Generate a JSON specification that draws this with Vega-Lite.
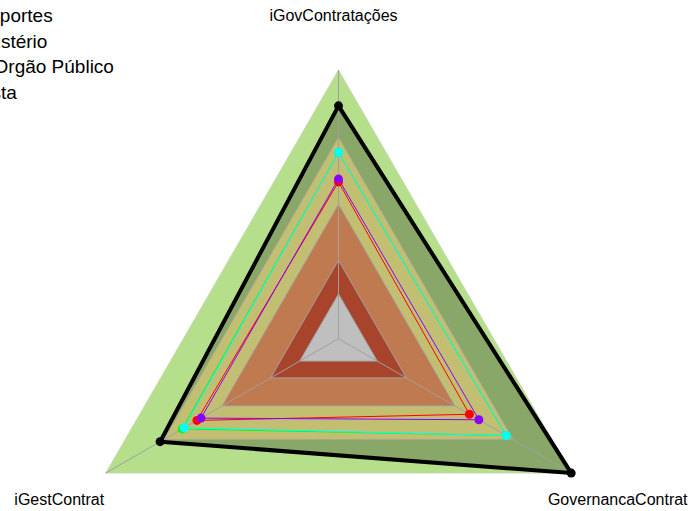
{
  "$schema": "https://vega.github.io/schema/vega-lite/v6.json",
  "width": 691,
  "height": 511,
  "padding": 0,
  "autosize": {"type": "none"},
  "background": "white",
  "config": {"view": {"stroke": null}, "font": "Liberation Sans"},
  "datasets": {
    "faixas": [
      {"faixa": "Aprimorado", "eixo": "iGovContratações", "valor": 1.0},
      {"faixa": "Aprimorado", "eixo": "iGestContrat", "valor": 1.0},
      {"faixa": "Aprimorado", "eixo": "GovernancaContrat", "valor": 1.0},
      {"faixa": "Intermediário", "eixo": "iGovContratações", "valor": 0.7},
      {"faixa": "Intermediário", "eixo": "iGestContrat", "valor": 0.7},
      {"faixa": "Intermediário", "eixo": "GovernancaContrat", "valor": 0.7},
      {"faixa": "Iniciando", "eixo": "iGovContratações", "valor": 0.4},
      {"faixa": "Iniciando", "eixo": "iGestContrat", "valor": 0.4},
      {"faixa": "Iniciando", "eixo": "GovernancaContrat", "valor": 0.4},
      {"faixa": "Inexpressivo", "eixo": "iGovContratações", "valor": 0.15},
      {"faixa": "Inexpressivo", "eixo": "iGestContrat", "valor": 0.15},
      {"faixa": "Inexpressivo", "eixo": "GovernancaContrat", "valor": 0.15},
      {"faixa": "Zero", "eixo": "iGovContratações", "valor": 0.0},
      {"faixa": "Zero", "eixo": "iGestContrat", "valor": 0.0},
      {"faixa": "Zero", "eixo": "GovernancaContrat", "valor": 0.0}
    ],
    "series": [
      {"serie": "Resposta", "eixo": "iGovContratações", "valor": 0.84},
      {"serie": "Resposta", "eixo": "iGestContrat", "valor": 0.72},
      {"serie": "Resposta", "eixo": "GovernancaContrat", "valor": 1.0},
      {"serie": "e Transportes", "eixo": "iGovContratações", "valor": 0.5},
      {"serie": "e Transportes", "eixo": "iGestContrat", "valor": 0.53},
      {"serie": "e Transportes", "eixo": "GovernancaContrat", "valor": 0.475},
      {"serie": "Do Ministério", "eixo": "iGovContratações", "valor": 0.513},
      {"serie": "Do Ministério", "eixo": "iGestContrat", "valor": 0.509},
      {"serie": "Do Ministério", "eixo": "GovernancaContrat", "valor": 0.524},
      {"serie": "Órgão Avaliado", "eixo": "iGovContratações", "valor": 0.632},
      {"serie": "Órgão Avaliado", "eixo": "iGestContrat", "valor": 0.606},
      {"serie": "Órgão Avaliado", "eixo": "GovernancaContrat", "valor": 0.665},
      {"serie": "Média Orgão Público", "eixo": "iGovContratações", "valor": 0.632},
      {"serie": "Média Orgão Público", "eixo": "iGestContrat", "valor": 0.596},
      {"serie": "Média Orgão Público", "eixo": "GovernancaContrat", "valor": 0.665}
    ],
    "eixos": [
      {"eixo": "iGovContratações"},
      {"eixo": "iGestContrat"},
      {"eixo": "GovernancaContrat"}
    ]
  },
  "layer": [
    {
      "data": {"name": "faixas"},
      "transform": [
        {"filter": "datum.faixa === 'Aprimorado'"},
        {"calculate": "datum.eixo === 'iGovContratações' ? 90 : datum.eixo === 'iGestContrat' ? 210 : 330", "as": "ang"},
        {"calculate": "(datum.valor + 0.2) / 1.2", "as": "r"},
        {"calculate": "datum.r * cos(datum.ang * PI / 180)", "as": "px"},
        {"calculate": "datum.r * sin(datum.ang * PI / 180)", "as": "py"}
      ],
      "mark": {"type": "line", "interpolate": "linear-closed", "filled": true, "fill": "#b5df8b", "stroke": "#c8d8b8", "strokeWidth": 1},
      "encoding": {
        "x": {"field": "px", "type": "quantitative", "scale": {"domain": [-1.2598, 1.3119], "nice": false, "zero": false}, "axis": null},
        "y": {"field": "py", "type": "quantitative", "scale": {"domain": [-0.6412, 1.2605], "nice": false, "zero": false}, "axis": null},
        "order": {"field": "ang", "type": "quantitative"}
      }
    },
    {
      "data": {"name": "series"},
      "transform": [
        {"filter": "datum.serie === 'Resposta'"},
        {"calculate": "datum.eixo === 'iGovContratações' ? 90 : datum.eixo === 'iGestContrat' ? 210 : 330", "as": "ang"},
        {"calculate": "(datum.valor + 0.2) / 1.2", "as": "r"},
        {"calculate": "datum.r * cos(datum.ang * PI / 180)", "as": "px"},
        {"calculate": "datum.r * sin(datum.ang * PI / 180)", "as": "py"}
      ],
      "mark": {"type": "line", "interpolate": "linear-closed", "filled": true, "fill": "#88a769", "strokeWidth": 0},
      "encoding": {
        "x": {"field": "px", "type": "quantitative", "scale": {"domain": [-1.2598, 1.3119], "nice": false, "zero": false}, "axis": null},
        "y": {"field": "py", "type": "quantitative", "scale": {"domain": [-0.6412, 1.2605], "nice": false, "zero": false}, "axis": null},
        "order": {"field": "ang", "type": "quantitative"}
      }
    },
    {
      "data": {"name": "faixas"},
      "transform": [
        {"filter": "datum.faixa === 'Intermediário'"},
        {"calculate": "datum.eixo === 'iGovContratações' ? 90 : datum.eixo === 'iGestContrat' ? 210 : 330", "as": "ang"},
        {"calculate": "(datum.valor + 0.2) / 1.2", "as": "r"},
        {"calculate": "datum.r * cos(datum.ang * PI / 180)", "as": "px"},
        {"calculate": "datum.r * sin(datum.ang * PI / 180)", "as": "py"}
      ],
      "mark": {"type": "line", "interpolate": "linear-closed", "filled": true, "fill": "#c2bf72", "stroke": "#a8a890", "strokeWidth": 1},
      "encoding": {
        "x": {"field": "px", "type": "quantitative", "scale": {"domain": [-1.2598, 1.3119], "nice": false, "zero": false}, "axis": null},
        "y": {"field": "py", "type": "quantitative", "scale": {"domain": [-0.6412, 1.2605], "nice": false, "zero": false}, "axis": null},
        "order": {"field": "ang", "type": "quantitative"}
      }
    },
    {
      "data": {"name": "faixas"},
      "transform": [
        {"filter": "datum.faixa === 'Iniciando'"},
        {"calculate": "datum.eixo === 'iGovContratações' ? 90 : datum.eixo === 'iGestContrat' ? 210 : 330", "as": "ang"},
        {"calculate": "(datum.valor + 0.2) / 1.2", "as": "r"},
        {"calculate": "datum.r * cos(datum.ang * PI / 180)", "as": "px"},
        {"calculate": "datum.r * sin(datum.ang * PI / 180)", "as": "py"}
      ],
      "mark": {"type": "line", "interpolate": "linear-closed", "filled": true, "fill": "#c07a50", "stroke": "#a0a0a0", "strokeWidth": 1},
      "encoding": {
        "x": {"field": "px", "type": "quantitative", "scale": {"domain": [-1.2598, 1.3119], "nice": false, "zero": false}, "axis": null},
        "y": {"field": "py", "type": "quantitative", "scale": {"domain": [-0.6412, 1.2605], "nice": false, "zero": false}, "axis": null},
        "order": {"field": "ang", "type": "quantitative"}
      }
    },
    {
      "data": {"name": "faixas"},
      "transform": [
        {"filter": "datum.faixa === 'Inexpressivo'"},
        {"calculate": "datum.eixo === 'iGovContratações' ? 90 : datum.eixo === 'iGestContrat' ? 210 : 330", "as": "ang"},
        {"calculate": "(datum.valor + 0.2) / 1.2", "as": "r"},
        {"calculate": "datum.r * cos(datum.ang * PI / 180)", "as": "px"},
        {"calculate": "datum.r * sin(datum.ang * PI / 180)", "as": "py"}
      ],
      "mark": {"type": "line", "interpolate": "linear-closed", "filled": true, "fill": "#a8432c", "stroke": "#a0a0a0", "strokeWidth": 1},
      "encoding": {
        "x": {"field": "px", "type": "quantitative", "scale": {"domain": [-1.2598, 1.3119], "nice": false, "zero": false}, "axis": null},
        "y": {"field": "py", "type": "quantitative", "scale": {"domain": [-0.6412, 1.2605], "nice": false, "zero": false}, "axis": null},
        "order": {"field": "ang", "type": "quantitative"}
      }
    },
    {
      "data": {"name": "faixas"},
      "transform": [
        {"filter": "datum.faixa === 'Zero'"},
        {"calculate": "datum.eixo === 'iGovContratações' ? 90 : datum.eixo === 'iGestContrat' ? 210 : 330", "as": "ang"},
        {"calculate": "(datum.valor + 0.2) / 1.2", "as": "r"},
        {"calculate": "datum.r * cos(datum.ang * PI / 180)", "as": "px"},
        {"calculate": "datum.r * sin(datum.ang * PI / 180)", "as": "py"}
      ],
      "mark": {"type": "line", "interpolate": "linear-closed", "filled": true, "fill": "#bfbfbf", "stroke": "#a0a0a0", "strokeWidth": 1},
      "encoding": {
        "x": {"field": "px", "type": "quantitative", "scale": {"domain": [-1.2598, 1.3119], "nice": false, "zero": false}, "axis": null},
        "y": {"field": "py", "type": "quantitative", "scale": {"domain": [-0.6412, 1.2605], "nice": false, "zero": false}, "axis": null},
        "order": {"field": "ang", "type": "quantitative"}
      }
    },
    {
      "data": {"name": "eixos"},
      "transform": [
        {"calculate": "datum.eixo === 'iGovContratações' ? 90 : datum.eixo === 'iGestContrat' ? 210 : 330", "as": "ang"},
        {"calculate": "cos(datum.ang * PI / 180)", "as": "px"},
        {"calculate": "sin(datum.ang * PI / 180)", "as": "py"}
      ],
      "mark": {"type": "rule", "color": "#a0a0a0", "strokeWidth": 1},
      "encoding": {
        "x": {"field": "px", "type": "quantitative", "scale": {"domain": [-1.2598, 1.3119], "nice": false, "zero": false}, "axis": null},
        "y": {"field": "py", "type": "quantitative", "scale": {"domain": [-0.6412, 1.2605], "nice": false, "zero": false}, "axis": null},
        "x2": {"datum": 0},
        "y2": {"datum": 0}
      }
    },
    {
      "data": {"name": "series"},
      "transform": [
        {"filter": "datum.serie === 'Resposta'"},
        {"calculate": "datum.eixo === 'iGovContratações' ? 90 : datum.eixo === 'iGestContrat' ? 210 : 330", "as": "ang"},
        {"calculate": "(datum.valor + 0.2) / 1.2", "as": "r"},
        {"calculate": "datum.r * cos(datum.ang * PI / 180)", "as": "px"},
        {"calculate": "datum.r * sin(datum.ang * PI / 180)", "as": "py"}
      ],
      "mark": {"type": "line", "interpolate": "linear-closed", "stroke": "black", "strokeWidth": 4, "strokeJoin": "miter"},
      "encoding": {
        "x": {"field": "px", "type": "quantitative", "scale": {"domain": [-1.2598, 1.3119], "nice": false, "zero": false}, "axis": null},
        "y": {"field": "py", "type": "quantitative", "scale": {"domain": [-0.6412, 1.2605], "nice": false, "zero": false}, "axis": null},
        "order": {"field": "ang", "type": "quantitative"}
      }
    },
    {
      "data": {"name": "series"},
      "transform": [
        {"filter": "datum.serie !== 'Resposta'"},
        {"calculate": "datum.eixo === 'iGovContratações' ? 90 : datum.eixo === 'iGestContrat' ? 210 : 330", "as": "ang"},
        {"calculate": "(datum.valor + 0.2) / 1.2", "as": "r"},
        {"calculate": "datum.r * cos(datum.ang * PI / 180)", "as": "px"},
        {"calculate": "datum.r * sin(datum.ang * PI / 180)", "as": "py"}
      ],
      "mark": {"type": "line", "interpolate": "linear-closed", "strokeWidth": 1},
      "encoding": {
        "x": {"field": "px", "type": "quantitative", "scale": {"domain": [-1.2598, 1.3119], "nice": false, "zero": false}, "axis": null},
        "y": {"field": "py", "type": "quantitative", "scale": {"domain": [-0.6412, 1.2605], "nice": false, "zero": false}, "axis": null},
        "color": {"field": "serie", "type": "nominal", "scale": {"domain": ["Resposta", "e Transportes", "Do Ministério", "Órgão Avaliado", "Média Orgão Público"], "range": ["#000000", "#ff0000", "#8a00ff", "#00ff00", "#00ffff"]}},
        "order": {"field": "ang", "type": "quantitative"}
      }
    },
    {
      "data": {"name": "series"},
      "transform": [
        {"calculate": "datum.eixo === 'iGovContratações' ? 90 : datum.eixo === 'iGestContrat' ? 210 : 330", "as": "ang"},
        {"calculate": "(datum.valor + 0.2) / 1.2", "as": "r"},
        {"calculate": "datum.r * cos(datum.ang * PI / 180)", "as": "px"},
        {"calculate": "datum.r * sin(datum.ang * PI / 180)", "as": "py"}
      ],
      "mark": {"type": "circle", "size": 80, "opacity": 1},
      "encoding": {
        "x": {"field": "px", "type": "quantitative", "scale": {"domain": [-1.2598, 1.3119], "nice": false, "zero": false}, "axis": null},
        "y": {"field": "py", "type": "quantitative", "scale": {"domain": [-0.6412, 1.2605], "nice": false, "zero": false}, "axis": null},
        "color": {
          "field": "serie", "type": "nominal",
          "scale": {"domain": ["Resposta", "e Transportes", "Do Ministério", "Órgão Avaliado", "Média Orgão Público"], "range": ["#000000", "#ff0000", "#8a00ff", "#00ff00", "#00ffff"]},
          "legend": {
            "orient": "none", "legendX": -86.5, "legendY": 6.5, "title": null,
            "values": ["e Transportes", "Do Ministério", "Média Orgão Público", "Resposta"],
            "labelFontSize": 19, "labelFont": "Liberation Sans", "labelColor": "black",
            "labelLimit": 0, "rowPadding": 5.5, "symbolSize": 100, "labelOffset": 4
          }
        }
      }
    },
    {
      "data": {"name": "eixos"},
      "transform": [
        {"filter": "datum.eixo !== 'iGovContratações'"},
        {"calculate": "datum.eixo === 'iGestContrat' ? 210 : 330", "as": "ang"},
        {"calculate": "1.2 * cos(datum.ang * PI / 180)", "as": "px"},
        {"calculate": "1.2 * sin(datum.ang * PI / 180)", "as": "py"}
      ],
      "mark": {"type": "text", "fontSize": 16, "font": "Liberation Sans", "color": "black", "align": "center", "baseline": "middle"},
      "encoding": {
        "x": {"field": "px", "type": "quantitative", "scale": {"domain": [-1.2598, 1.3119], "nice": false, "zero": false}, "axis": null},
        "y": {"field": "py", "type": "quantitative", "scale": {"domain": [-0.6412, 1.2605], "nice": false, "zero": false}, "axis": null},
        "text": {"field": "eixo"}
      }
    },
    {
      "data": {"name": "eixos"},
      "transform": [
        {"filter": "datum.eixo === 'iGovContratações'"},
        {"calculate": "0", "as": "px"},
        {"calculate": "1.2", "as": "py"}
      ],
      "mark": {"type": "text", "fontSize": 16, "font": "Liberation Sans", "color": "black", "align": "center", "baseline": "middle", "dx": -5},
      "encoding": {
        "x": {"field": "px", "type": "quantitative", "scale": {"domain": [-1.2598, 1.3119], "nice": false, "zero": false}, "axis": null},
        "y": {"field": "py", "type": "quantitative", "scale": {"domain": [-0.6412, 1.2605], "nice": false, "zero": false}, "axis": null},
        "text": {"field": "eixo"}
      }
    }
  ]
}
